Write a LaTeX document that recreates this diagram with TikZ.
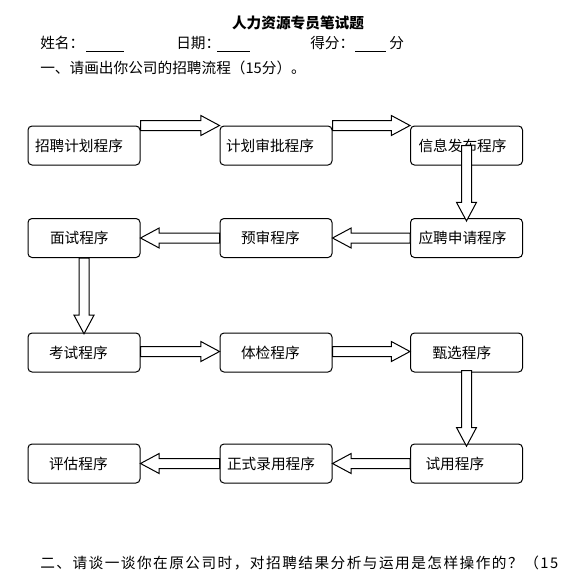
\documentclass[tikz,border=0pt]{standalone}
\usepackage{fontspec}
\setmainfont{Noto Sans CJK SC}
\newfontfamily\widecjk[LetterSpace=10]{Noto Sans CJK SC}
\usetikzlibrary{calc}
\newcommand\hollowarrow[2]{%
  \coordinate (ha-s) at (#1);
  \coordinate (ha-e) at (#2);
  \coordinate (ha-b) at ($(ha-e)!14pt!(ha-s)$);
  \draw[blockarr] ($(ha-s)!3.75pt!90:(ha-e)$) -- ($(ha-b)!3.75pt!-90:(ha-s)$)
    -- ($(ha-b)!7.5pt!-90:(ha-s)$) -- (ha-e) -- ($(ha-b)!7.5pt!90:(ha-s)$)
    -- ($(ha-b)!3.75pt!90:(ha-s)$) -- ($(ha-s)!3.75pt!-90:(ha-e)$) -- cycle;}
\begin{document}
\begin{tikzpicture}[x=0.75pt,y=-0.75pt,
  font=\fontsize{11pt}{13pt}\selectfont,
  box/.style={draw, line width=0.75pt, rounded corners=3pt, minimum height=29.25pt,
    text width=84pt, inner xsep=0pt, inner ysep=0pt, align=left},
  txt/.style={inner sep=0pt, anchor=west},
  blank/.style={line width=0.75pt},
  blockarr/.style={draw, line width=0.75pt, fill=white, line join=miter}]
\useasboundingbox (0,0) rectangle (580,582);
% header
\node[inner sep=0pt, font=\bfseries\fontsize{11pt}{13pt}\selectfont] (title) at (298,23) {人力资源专员笔试题};
\node[txt] (name) at (40,43) {姓名：};
\draw[blank] (86,51) -- (124,51);
\node[txt] (date) at (176,43) {日期：};
\draw[blank] (217,51) -- (250,51);
\node[txt] (score) at (310,43) {得分：};
\draw[blank] (355,51) -- (386,51);
\node[txt] (fen) at (389,43) {分};
\node[txt] (q1) at (40,68) {一、请画出你公司的招聘流程（15分）。};
% boxes
\node[box] (b1) at (84,145.5) {\hspace*{5.25pt}招聘计划程序};
\node[box] (b2) at (276,145.5) {\hspace*{4.5pt}计划审批程序};
\node[box] (b3) at (466.5,145.5) {\hspace*{6pt}信息发布程序};
\node[box] (b4) at (84,238) {\hspace*{16.5pt}面试程序};
\node[box] (b5) at (276,238) {\hspace*{15.75pt}预审程序};
\node[box] (b6) at (466.5,238) {\hspace*{6pt}应聘申请程序};
\node[box] (b7) at (84,352.5) {\hspace*{15.75pt}考试程序};
\node[box] (b8) at (276,352.5) {\hspace*{15.75pt}体检程序};
\node[box] (b9) at (466.5,352.5) {\hspace*{16.5pt}甄选程序};
\node[box] (b10) at (84,463.5) {\hspace*{15.75pt}评估程序};
\node[box] (b11) at (276,463.5) {\hspace*{5.25pt}正式录用程序};
\node[box] (b12) at (466.5,463.5) {\hspace*{11.25pt}试用程序};
% arrows
\hollowarrow{b1.north east}{b2.north west}
\hollowarrow{b2.north east}{b3.north west}
\hollowarrow{b3.center}{[yshift=-2.25pt]b6.north}
\hollowarrow{b6.west}{b5.east}
\hollowarrow{b5.west}{b4.east}
\hollowarrow{b4.south}{[yshift=-1pt]b7.north}
\hollowarrow{[yshift=0.75pt]b7.east}{[yshift=0.75pt]b8.west}
\hollowarrow{[yshift=0.75pt]b8.east}{[yshift=0.75pt]b9.west}
\hollowarrow{[yshift=1.5pt]b9.south}{[yshift=-2pt]b12.north}
\hollowarrow{b12.west}{b11.east}
\hollowarrow{b11.west}{b10.east}
% bottom question
\node[txt, font=\widecjk\fontsize{11pt}{13pt}\selectfont] (q2) at (40,563) {二、请谈一谈你在原公司时，对招聘结果分析与运用是怎样操作的？（15};
\end{tikzpicture}
\end{document}
